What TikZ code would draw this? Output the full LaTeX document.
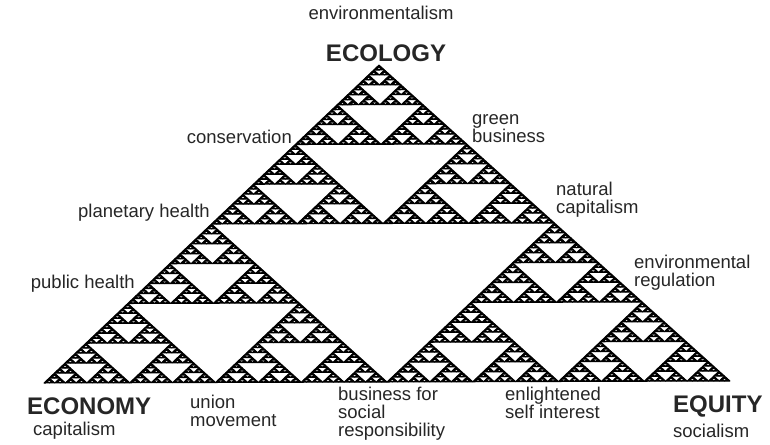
\documentclass[tikz,border=0pt]{standalone}
\usepackage{fontspec}
\setmainfont{Liberation Sans}
\newcommand\sierp[3]{%
  \ifnum#1=1\relax
    \path[sierstyle] (#2,#3) -- ++(1,0) -- ++(-1,1) -- cycle;%
  \else
    \edef\sierrest{%
      \noexpand\sierp{\the\numexpr#1/2\relax}{#2}{#3}%
      \noexpand\sierp{\the\numexpr#1/2\relax}{\the\numexpr#2+#1/2\relax}{#3}%
      \noexpand\sierp{\the\numexpr#1/2\relax}{#2}{\the\numexpr#3+#1/2\relax}}%
    \expandafter\sierrest
  \fi}
\begin{document}
\begin{tikzpicture}[x=1pt,y=-1pt,
  lbl/.style={font=\fontsize{18.5}{18}\selectfont, text=black!85, inner sep=0pt},
  pole/.style={font=\fontsize{24}{24}\selectfont\bfseries, text=black!85, inner sep=0pt},
  sierstyle/.style={fill=black, draw=black, line width=1pt, line join=round}]
\useasboundingbox (0,0) rectangle (770,444);
\begin{scope}[shift={(44,383)}, x={(5.359pt,0.0156pt)}, y={(2.617pt,2.484pt)}]
  \sierp{128}{0}{0}
\end{scope}
\node[lbl, anchor=base] (env) at (381,20) {environmentalism};
\node[pole, anchor=base] (ecology) at (386,61) {ECOLOGY};
\node[lbl, anchor=base east] (cons) at (292,143) {conservation};
\node[lbl, anchor=base west] (green) at (472,124) {\vtop{\hbox{green}\hbox{business}}};
\node[lbl, anchor=base east] (planet) at (210,217) {planetary health};
\node[lbl, anchor=base west] (natural) at (556,195) {\vtop{\hbox{natural}\hbox{capitalism}}};
\node[lbl, anchor=base east] (public) at (135,288) {public health};
\node[lbl, anchor=base west] (envreg) at (634,268) {\vtop{\hbox{environmental}\hbox{regulation}}};
\node[pole, anchor=base west] (economy) at (27,414) {ECONOMY};
\node[lbl, anchor=base west] (capl) at (33,435) {capitalism};
\node[lbl, anchor=base west] (union) at (190,408) {\vtop{\hbox{union}\hbox{movement}}};
\node[lbl, anchor=base west] (bsr) at (338,400) {\vtop{\hbox{business for}\hbox{social}\hbox{responsibility}}};
\node[lbl, anchor=base west] (enl) at (505,400) {\vtop{\hbox{enlightened}\hbox{self interest}}};
\node[pole, anchor=base west] (equity) at (673,412) {EQUITY};
\node[lbl, anchor=base west] (soc) at (673,437) {socialism};
\end{tikzpicture}
\end{document}
